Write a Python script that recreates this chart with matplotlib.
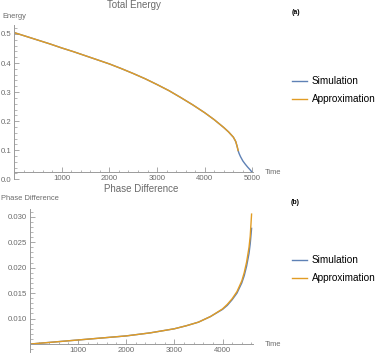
"""Total energy and phase difference: simulation vs approximation."""

import matplotlib
matplotlib.use("Agg")
import matplotlib.pyplot as plt
from matplotlib.ticker import MultipleLocator, FixedLocator
from matplotlib.lines import Line2D

plt.rcParams["font.family"] = ["Liberation Sans", "DejaVu Sans"]

# panel (a): total energy
energy_app_t = [0, 250, 500, 750, 1000, 1250, 1500, 1750, 2000, 2250, 2500,
                2750, 3000, 3250, 3500, 3750, 4000, 4200, 4400, 4500, 4600,
                4650, 4680, 4700]
energy_app = [0.505, 0.492, 0.479, 0.466, 0.452, 0.439, 0.425, 0.411, 0.397,
              0.381, 0.364, 0.346, 0.326, 0.305, 0.281, 0.256, 0.229, 0.205,
              0.178, 0.163, 0.145, 0.130, 0.113, 0.099]
energy_sim_t = energy_app_t + [4720, 4750, 4800, 4850, 4900, 4950, 4985]
energy_sim = energy_app + [0.089, 0.078, 0.063, 0.052, 0.042, 0.033, 0.026]

# panel (b): phase difference
phase_t = [0, 500, 1000, 1500, 2000, 2500, 3000, 3250, 3500, 3750, 4000, 4100,
           4200, 4300, 4400, 4450, 4500, 4550, 4575, 4603]
phase_sim = [0.0050, 0.0054, 0.0058, 0.0062, 0.0066, 0.0072, 0.0080, 0.0086,
             0.0093, 0.0104, 0.0118, 0.0126, 0.0137, 0.0150, 0.0170, 0.0184,
             0.0203, 0.0228, 0.0247, 0.0277]
phase_app = [0.0050, 0.0054, 0.0058, 0.0062, 0.0066, 0.0072, 0.0080, 0.0086,
             0.0093, 0.0104, 0.0119, 0.0128, 0.0139, 0.0153, 0.0174, 0.0190,
             0.0211, 0.0240, 0.0262, 0.0305]

BLUE = "#5E81B5"
ORANGE = "#E19C24"
GRAY = "#6b6b6b"
AXIS = "#9a9a9a"


def style_axes(ax, x_cross):
    for side in ("top", "right"):
        ax.spines[side].set_visible(False)
    for side in ("left", "bottom"):
        ax.spines[side].set_color(AXIS)
        ax.spines[side].set_linewidth(0.7)
    # x axis crosses the y axis above the lower plot range, as in Mathematica
    ax.spines["bottom"].set_position(("data", x_cross))
    ax.tick_params(which="both", direction="in", colors=AXIS, labelcolor=GRAY,
                   labelsize=5.6, pad=2)
    ax.tick_params(which="major", length=3.5, width=0.6)
    ax.tick_params(which="minor", length=1.8, width=0.5)


fig = plt.figure(figsize=(3.82, 3.60), dpi=100)

# ---- (a) ----
ax1 = fig.add_axes([0.0367, 0.502, 0.6253, 0.4286])
ax1.plot(energy_sim_t, energy_sim, color=BLUE, lw=1.0)
ax1.plot(energy_app_t, energy_app, color=ORANGE, lw=1.0)
ax1.set_xlim(0, 5010)
ax1.set_ylim(0, 0.531)
ax1.xaxis.set_major_locator(FixedLocator([1000, 2000, 3000, 4000, 5000]))
ax1.xaxis.set_minor_locator(MultipleLocator(200))
ax1.yaxis.set_major_locator(MultipleLocator(0.1))
ax1.yaxis.set_minor_locator(MultipleLocator(0.02))
ax1.yaxis.set_major_formatter(lambda v, p: f"{v:.1f}")
style_axes(ax1, 0.025)
ax1.set_title("Total Energy", fontsize=7, color=GRAY, pad=12)

# ---- (b) ----
ax2 = fig.add_axes([0.0777, 0.023, 0.5843, 0.3964])
ax2.plot(phase_t, phase_sim, color=BLUE, lw=1.0)
ax2.plot(phase_t, phase_app, color=ORANGE, lw=1.0)
ax2.set_xlim(0, 4630)
ax2.set_ylim(0.0035, 0.0315)
ax2.xaxis.set_major_locator(FixedLocator([1000, 2000, 3000, 4000]))
ax2.xaxis.set_minor_locator(MultipleLocator(200))
ax2.yaxis.set_major_locator(FixedLocator([0.010, 0.015, 0.020, 0.025, 0.030]))
ax2.yaxis.set_minor_locator(MultipleLocator(0.001))
ax2.yaxis.set_major_formatter(lambda v, p: f"{v:.3f}")
style_axes(ax2, 0.005)
ax2.set_title("Phase Difference", fontsize=7, color=GRAY, pad=12)

# axis labels in Mathematica placement
fig.text(2 / 382, 1 - 16 / 360, "Energy", fontsize=5.4, color=GRAY, va="center")
fig.text(265 / 382, 1 - 172 / 360, "Time", fontsize=5.4, color=GRAY, va="center")
fig.text(1 / 382, 1 - 199 / 360, "Phase Difference", fontsize=5.4, color=GRAY,
         va="center")
fig.text(265 / 382, 1 - 345 / 360, "Time", fontsize=5.4, color=GRAY, va="center")

# panel tags
fig.text(292 / 382, 1 - 13 / 360, "(a)", fontsize=5, fontweight="bold", va="center")
fig.text(291 / 382, 1 - 202 / 360, "(b)", fontsize=5, fontweight="bold", va="center")

# legends
handles = [Line2D([], [], color=BLUE, lw=1.0), Line2D([], [], color=ORANGE, lw=1.0)]
labels = ["Simulation", "Approximation"]
for y in (1 - 90 / 360, 1 - 269 / 360):
    fig.legend(handles, labels, loc="center left", bbox_to_anchor=(292 / 382, y),
               frameon=False, fontsize=7.2, handlelength=1.5, handletextpad=0.5,
               labelspacing=0.8, borderpad=0, borderaxespad=0)

fig.savefig("out.png", dpi=100)
